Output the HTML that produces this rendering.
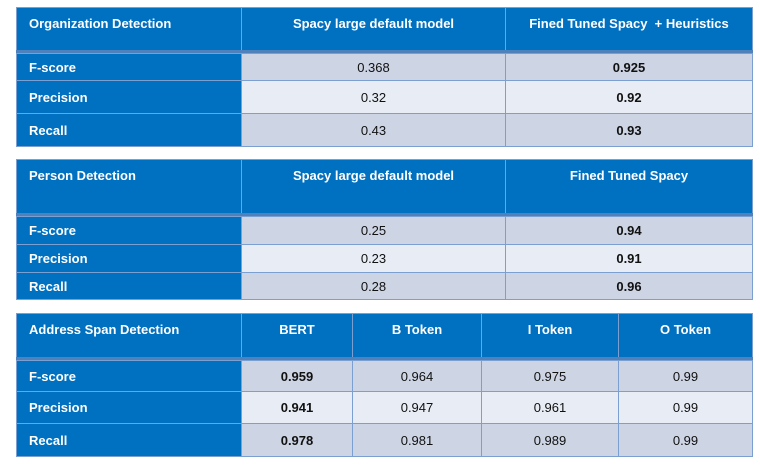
<!DOCTYPE html>
<html><head><meta charset="utf-8"><style>
body{margin:0;width:760px;height:467px;background:#fff;position:relative;overflow:hidden;font-family:"Liberation Sans",Arial,sans-serif;font-size:13px}
.c{position:absolute;box-sizing:border-box;border:1px solid #7A9FD0;display:flex;align-items:center;justify-content:center;color:#111}
.h{background:#0070C0;color:#fff;font-weight:bold;align-items:flex-start;padding-top:8px;font-size:13px}
.l{background:#0070C0;color:#fff;font-weight:bold;justify-content:flex-start;padding-left:12px;font-size:13px}
.h.l{padding-left:12px}
.d{background:#CDD4E4}.e{background:#E8ECF5}
.b{font-weight:bold}
.sep{position:absolute;background:#4F81BD}
</style></head><body>
<!-- Table 1 -->
<div>
<div class="c h l" style="left:16px;top:7px;width:226px;height:44px">Organization Detection</div>
<div class="c h" style="left:241px;top:7px;width:265px;height:44px">Spacy large default model</div>
<div class="c h" style="left:505px;top:7px;width:248px;height:44px">Fined Tuned Spacy &nbsp;+ Heuristics</div>
<div class="sep" style="left:16px;top:50px;width:737px;height:4px"></div>
<div class="c l" style="left:16px;top:53px;width:226px;height:28px">F-score</div>
<div class="c d" style="left:241px;top:53px;width:265px;height:28px">0.368</div>
<div class="c d b" style="left:505px;top:53px;width:248px;height:28px">0.925</div>
<div class="c l" style="left:16px;top:80px;width:226px;height:34px">Precision</div>
<div class="c e" style="left:241px;top:80px;width:265px;height:34px">0.32</div>
<div class="c e b" style="left:505px;top:80px;width:248px;height:34px">0.92</div>
<div class="c l" style="left:16px;top:113px;width:226px;height:34px">Recall</div>
<div class="c d" style="left:241px;top:113px;width:265px;height:34px">0.43</div>
<div class="c d b" style="left:505px;top:113px;width:248px;height:34px">0.93</div>
</div>
<!-- Table 2 -->
<div>
<div class="c h l" style="left:16px;top:159px;width:226px;height:55px">Person Detection</div>
<div class="c h" style="left:241px;top:159px;width:265px;height:55px">Spacy large default model</div>
<div class="c h" style="left:505px;top:159px;width:248px;height:55px">Fined Tuned Spacy</div>
<div class="sep" style="left:16px;top:213px;width:737px;height:4px"></div>
<div class="c l" style="left:16px;top:216px;width:226px;height:29px">F-score</div>
<div class="c d" style="left:241px;top:216px;width:265px;height:29px">0.25</div>
<div class="c d b" style="left:505px;top:216px;width:248px;height:29px">0.94</div>
<div class="c l" style="left:16px;top:244px;width:226px;height:29px">Precision</div>
<div class="c e" style="left:241px;top:244px;width:265px;height:29px">0.23</div>
<div class="c e b" style="left:505px;top:244px;width:248px;height:29px">0.91</div>
<div class="c l" style="left:16px;top:272px;width:226px;height:28px">Recall</div>
<div class="c d" style="left:241px;top:272px;width:265px;height:28px">0.28</div>
<div class="c d b" style="left:505px;top:272px;width:248px;height:28px">0.96</div>
</div>
<!-- Table 3 -->
<div>
<div class="c h l" style="left:16px;top:313px;width:226px;height:45px">Address Span Detection</div>
<div class="c h" style="left:241px;top:313px;width:112px;height:45px">BERT</div>
<div class="c h" style="left:352px;top:313px;width:130px;height:45px">B Token</div>
<div class="c h" style="left:481px;top:313px;width:138px;height:45px">I Token</div>
<div class="c h" style="left:618px;top:313px;width:135px;height:45px">O Token</div>
<div class="sep" style="left:16px;top:357px;width:737px;height:4px"></div>
<div class="c l" style="left:16px;top:360px;width:226px;height:32px">F-score</div>
<div class="c d b" style="left:241px;top:360px;width:112px;height:32px">0.959</div>
<div class="c d" style="left:352px;top:360px;width:130px;height:32px">0.964</div>
<div class="c d" style="left:481px;top:360px;width:138px;height:32px">0.975</div>
<div class="c d" style="left:618px;top:360px;width:135px;height:32px">0.99</div>
<div class="c l" style="left:16px;top:391px;width:226px;height:33px">Precision</div>
<div class="c e b" style="left:241px;top:391px;width:112px;height:33px">0.941</div>
<div class="c e" style="left:352px;top:391px;width:130px;height:33px">0.947</div>
<div class="c e" style="left:481px;top:391px;width:138px;height:33px">0.961</div>
<div class="c e" style="left:618px;top:391px;width:135px;height:33px">0.99</div>
<div class="c l" style="left:16px;top:423px;width:226px;height:34px">Recall</div>
<div class="c d b" style="left:241px;top:423px;width:112px;height:34px">0.978</div>
<div class="c d" style="left:352px;top:423px;width:130px;height:34px">0.981</div>
<div class="c d" style="left:481px;top:423px;width:138px;height:34px">0.989</div>
<div class="c d" style="left:618px;top:423px;width:135px;height:34px">0.99</div>
</div>
</body></html>
